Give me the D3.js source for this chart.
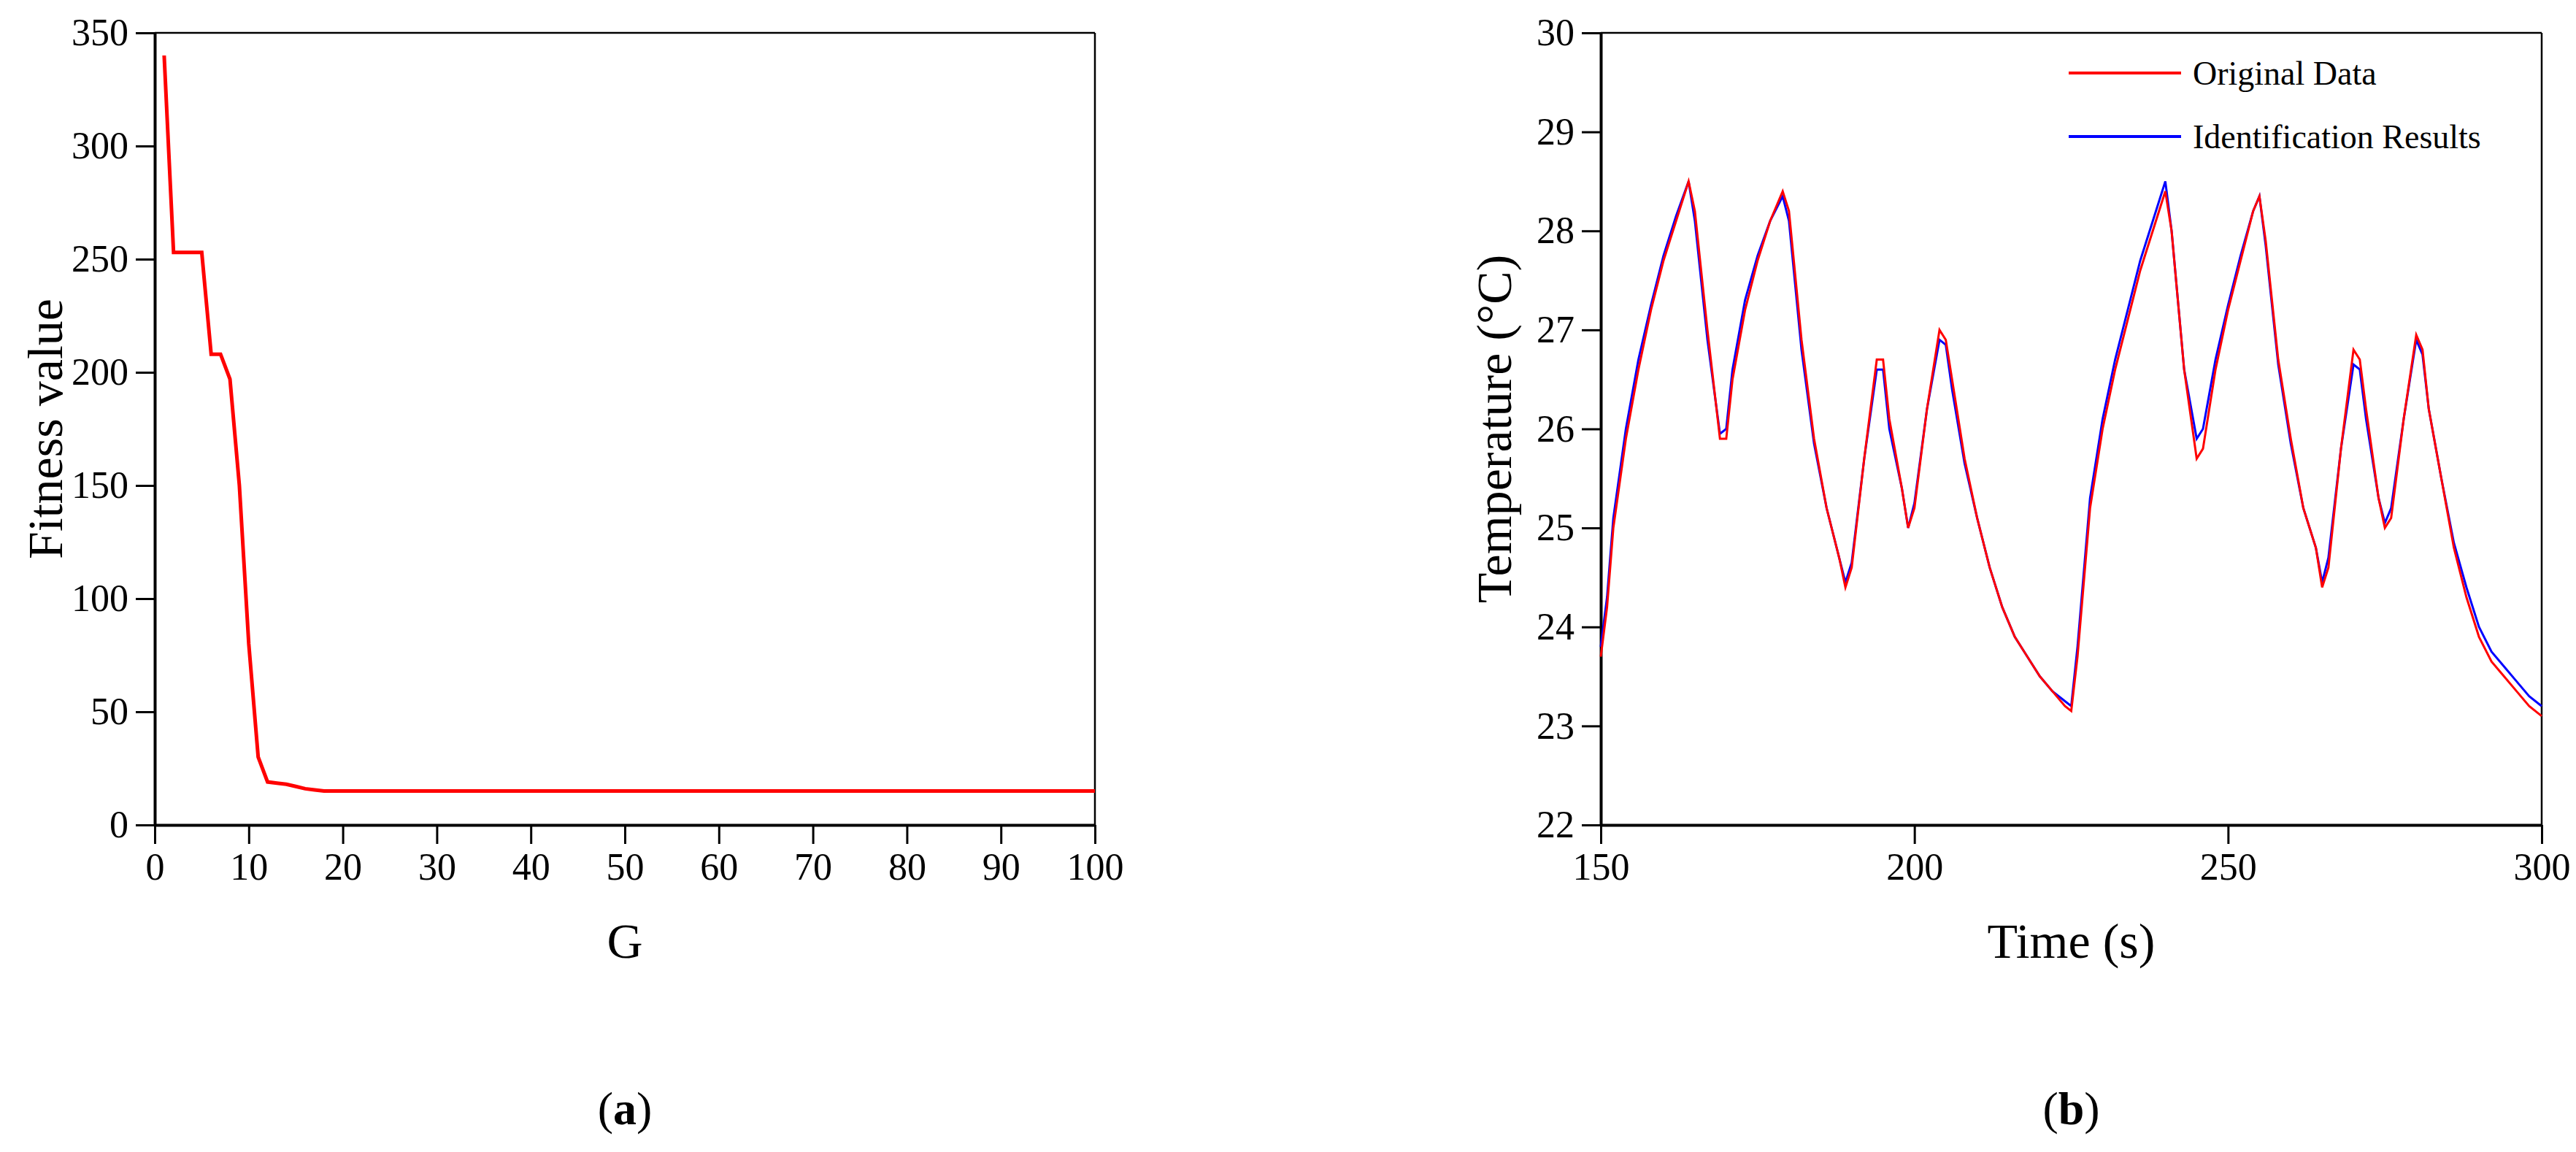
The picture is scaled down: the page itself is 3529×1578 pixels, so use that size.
<!DOCTYPE html>
<html>
<head>
<meta charset="utf-8">
<script src="https://cdn.jsdelivr.net/npm/d3@7"></script>
<style>
  body { margin: 0; background: #fff; }
  text { font-family: "Liberation Serif", "Times New Roman", serif; fill: #000; }
</style>
</head>
<body>
<div id="chart"></div>
<script>
// (a) fitness per generation
const generations = d3.range(1, 101);
const fitness = [340, 253, 253, 253, 253, 208, 208, 197, 150, 80, 30, 19, 18.5, 18, 17, 16, 15.5, 15]
  .concat(d3.range(19, 101).map(() => 15));
const fitnessTicks = [0, 50, 100, 150, 200, 250, 300, 350];
const genTicks = [0, 10, 20, 30, 40, 50, 60, 70, 80, 90, 100];

// (b) temperature
const times = [150, 151, 152, 154, 156, 158, 160, 162, 164, 165, 167, 169, 170, 171, 173, 175, 177, 179, 180,
  182, 184, 186, 188, 189, 190, 192, 194, 195, 196, 198, 199, 200, 202, 204, 205, 206, 208, 210, 212, 214,
  216, 218, 220, 222, 224, 225, 226, 228, 230, 232, 234, 236, 238, 240, 241, 243, 245, 246, 248, 250, 252,
  254, 255, 256, 258, 260, 262, 264, 265, 266, 268, 270, 271, 272, 274, 275, 276, 278, 280, 281, 282, 284,
  286, 288, 290, 292, 294, 296, 298, 300];
const originalTemp = [23.7, 24.2, 25.0, 25.9, 26.6, 27.2, 27.7, 28.1, 28.5, 28.2, 27.0, 25.9, 25.9, 26.5, 27.2, 27.7, 28.1, 28.4, 28.2,
  26.9, 25.9, 25.2, 24.7, 24.4, 24.6, 25.7, 26.7, 26.7, 26.1, 25.4, 25.0, 25.2, 26.2, 27.0, 26.9, 26.5, 25.7, 25.1, 24.6, 24.2,
  23.9, 23.7, 23.5, 23.35, 23.2, 23.15, 23.7, 25.2, 26.0, 26.6, 27.1, 27.6, 28.0, 28.4, 28.0, 26.6, 25.7, 25.8, 26.6, 27.2, 27.7,
  28.2, 28.35, 27.9, 26.7, 25.9, 25.2, 24.8, 24.4, 24.6, 25.8, 26.8, 26.7, 26.2, 25.3, 25.0, 25.1, 26.1, 26.95, 26.8, 26.2, 25.5,
  24.8, 24.3, 23.9, 23.65, 23.5, 23.35, 23.2, 23.1];
const identifiedTemp = [23.8, 24.3, 25.1, 26.0, 26.7, 27.25, 27.75, 28.15, 28.5, 28.1, 26.9, 25.95, 26.0, 26.6, 27.3, 27.75, 28.1, 28.35, 28.1,
  26.8, 25.85, 25.2, 24.7, 24.45, 24.65, 25.7, 26.6, 26.6, 26.0, 25.4, 25.0, 25.25, 26.2, 26.9, 26.85, 26.4, 25.65, 25.1, 24.6, 24.2,
  23.9, 23.7, 23.5, 23.35, 23.25, 23.2, 23.8, 25.3, 26.1, 26.7, 27.2, 27.7, 28.1, 28.5, 28.0, 26.6, 25.9, 26.0, 26.7, 27.25, 27.75,
  28.2, 28.35, 27.85, 26.65, 25.85, 25.2, 24.8, 24.45, 24.7, 25.8, 26.65, 26.6, 26.1, 25.3, 25.05, 25.2, 26.1, 26.9, 26.75, 26.2, 25.5,
  24.85, 24.4, 24.0, 23.75, 23.6, 23.45, 23.3, 23.2];
const tempTicks = [22, 23, 24, 25, 26, 27, 28, 29, 30];
const timeTicks = [150, 200, 250, 300];
const legendNames = ["Original Data", "Identification Results"];
const legendColors = ["#ff0000", "#0000ff"];

const W = 3529, H = 1578;
const plotTop = 45, plotBottom = 1130;

const svg = d3.select("#chart").append("svg").attr("width", W).attr("height", H);

function frame(x0, x1, xScale, yScale, xTicks, yTicks, xTitle, yTitle, yTitleX, tag) {
  const g = svg.append("g");
  // box top/right
  g.append("line").attr("x1", x0).attr("x2", x1).attr("y1", plotTop).attr("y2", plotTop).attr("stroke", "#000").attr("stroke-width", 2.5);
  g.append("line").attr("x1", x1).attr("x2", x1).attr("y1", plotTop).attr("y2", plotBottom).attr("stroke", "#000").attr("stroke-width", 2.5);

  const xa = g.append("g").attr("transform", `translate(0,${plotBottom})`)
    .call(d3.axisBottom(xScale).tickValues(xTicks).tickSize(26).tickSizeOuter(0).tickPadding(12));
  const ya = g.append("g").attr("transform", `translate(${x0},0)`)
    .call(d3.axisLeft(yScale).tickValues(yTicks).tickSize(26).tickSizeOuter(0).tickPadding(10));
  [xa, ya].forEach(a => {
    a.select(".domain").attr("stroke", "#000").attr("stroke-width", 4);
    a.selectAll(".tick line").attr("stroke", "#000").attr("stroke-width", 3);
    a.selectAll("text").style("font-size", "52px").attr("fill", "#000");
  });

  g.append("text").attr("x", (x0 + x1) / 2).attr("y", 1312).attr("text-anchor", "middle")
    .style("font-size", "68px").text(xTitle);
  g.append("text").attr("transform", `translate(${yTitleX},${(plotTop + plotBottom) / 2}) rotate(-90)`)
    .attr("text-anchor", "middle").style("font-size", "68px").text(yTitle);

  const lab = g.append("text").attr("x", (x0 + x1) / 2).attr("y", 1540).attr("text-anchor", "middle").style("font-size", "64px");
  lab.append("tspan").text("(");
  lab.append("tspan").style("font-weight", "bold").text(tag);
  lab.append("tspan").text(")");
}

// (a)
const xA = d3.scaleLinear().domain([0, 100]).range([212, 1500]);
const yA = d3.scaleLinear().domain([0, 350]).range([plotBottom, plotTop]);
frame(212, 1500, xA, yA, genTicks, fitnessTicks, "G", "Fitness value", 85, "a");
svg.append("path").datum(generations)
  .attr("d", d3.line().x(d => xA(d)).y((d, i) => yA(fitness[i])))
  .attr("fill", "none").attr("stroke", "#ff0000").attr("stroke-width", 5);

// (b)
const xB = d3.scaleLinear().domain([150, 300]).range([2193, 3482]);
const yB = d3.scaleLinear().domain([22, 30]).range([plotBottom, plotTop]);
frame(2193, 3482, xB, yB, timeTicks, tempTicks, "Time (s)", "Temperature (°C)", 2070, "b");
const lineB = vals => d3.line().x(d => xB(d)).y((d, i) => yB(vals[i]))(times);
svg.append("path").attr("d", lineB(identifiedTemp)).attr("fill", "none").attr("stroke", "#0000ff").attr("stroke-width", 3);
svg.append("path").attr("d", lineB(originalTemp)).attr("fill", "none").attr("stroke", "#ff0000").attr("stroke-width", 3);

// legend
const leg = svg.append("g");
legendNames.forEach((n, i) => {
  const y = 100 + i * 87;
  leg.append("line").attr("x1", 2834).attr("x2", 2988).attr("y1", y).attr("y2", y)
    .attr("stroke", legendColors[i]).attr("stroke-width", 4);
  leg.append("text").attr("x", 3004).attr("y", y).attr("dy", "0.35em").style("font-size", "46px").text(n);
});
</script>
</body>
</html>
